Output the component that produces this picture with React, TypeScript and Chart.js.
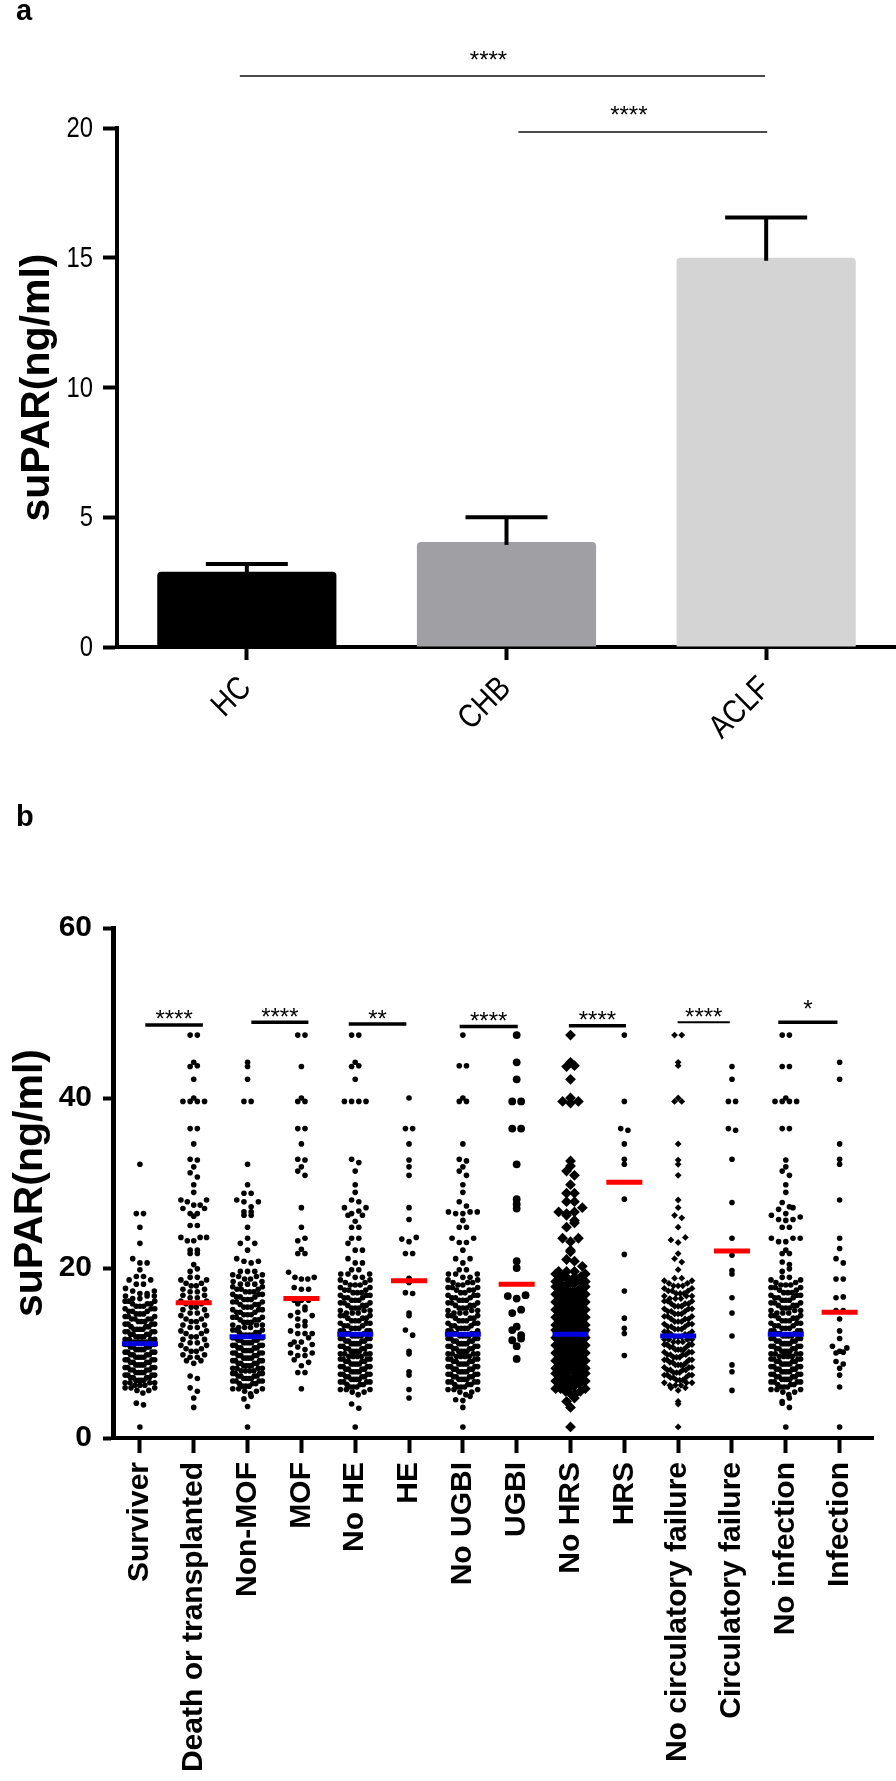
import React, { useEffect, useRef } from "react";
import { Chart, registerables } from "chart.js";

Chart.register(...registerables);

const SANS = "'Liberation Sans', Arial, Helvetica, sans-serif";

/* ---------------- panel a data ---------------- */
const groupsA = ["HC", "CHB", "ACLF"];
const meanA = [2.9, 4.05, 15.0];
const errTopA = [3.2, 5.0, 16.55];
const barColorA = ["#000000", "#a0a0a4", "#d4d4d4"];
const yTicksA = [0, 5, 10, 15, 20];
const sigPairsA = [[0, 2], [1, 2]];
const sigLabelsA = ["****", "****"];
const sigLevelA = [22.0, 19.85];

/* ---------------- panel b data ---------------- */
const categoriesB = [
  "Surviver", "Death or transplanted", "Non-MOF", "MOF", "No HE", "HE", "No UGBI", "UGBI",
  "No HRS", "HRS", "No circulatory failure", "Circulatory failure", "No infection", "Infection",
];

// each entry: [suPAR value (ng/ml), number of patients at that value]
const survivorValues = [
  [32.2, 1], [26.4, 2], [24.8, 1], [22.9, 1], [21.1, 1], [20.6, 2], [19.8, 1], [19.0, 2], [18.6, 2], [18.1, 2],
  [17.6, 1], [17.3, 2], [17.0, 2], [16.7, 3], [16.4, 2], [16.1, 3], [15.8, 3], [15.5, 3], [15.2, 3], [14.9, 3],
  [14.6, 3], [14.3, 3], [14.0, 4], [13.7, 3], [13.4, 4], [13.1, 3], [12.8, 4], [12.5, 4], [12.2, 4], [11.9, 4],
  [11.6, 4], [11.3, 4], [11.0, 4], [10.7, 4], [10.4, 4], [10.1, 4], [9.8, 4], [9.5, 4], [9.2, 4], [8.9, 4],
  [8.6, 4], [8.3, 4], [8.0, 4], [7.7, 4], [7.4, 4], [7.1, 4], [6.8, 4], [6.5, 4], [6.2, 3], [5.9, 3], [5.6, 2],
  [5.3, 1], [4.1, 1], [3.9, 1], [1.3, 1],
];
const deathValues = [
  [47.4, 2], [44.2, 1], [43.8, 1], [43.7, 1], [42.2, 1], [40.0, 1], [39.6, 4], [36.4, 2], [34.6, 1], [32.8, 1],
  [32.7, 1], [31.9, 1], [31.2, 1], [30.7, 1], [29.8, 1], [28.9, 1], [28.0, 2], [27.8, 1], [27.4, 2], [27.0, 2],
  [26.4, 2], [26.1, 1], [25.0, 2], [23.6, 3], [23.2, 2], [22.1, 2], [21.7, 2], [20.4, 1], [19.9, 1], [19.6, 1],
  [18.9, 2], [18.6, 2], [18.2, 2], [17.9, 2], [17.5, 2], [17.2, 2], [16.8, 2], [16.5, 2], [16.1, 2], [15.8, 2],
  [15.4, 2], [15.1, 2], [14.7, 2], [14.4, 2], [14.0, 2], [13.7, 2], [13.3, 2], [13.0, 2], [12.6, 2], [12.3, 2],
  [11.9, 2], [11.6, 2], [11.2, 2], [10.9, 2], [10.5, 2], [10.2, 2], [9.8, 2], [9.5, 2], [9.1, 2], [8.8, 1],
  [7.3, 1], [7.0, 1], [5.9, 1], [5.5, 1], [4.7, 1], [3.6, 1],
];
const nonMofValues = [
  [44.2, 1], [43.7, 1], [42.2, 1], [39.6, 2], [32.2, 1], [29.8, 1], [28.8, 2], [28.0, 1], [27.8, 2], [27.2, 1],
  [26.6, 2], [26.2, 2], [24.8, 1], [23.5, 1], [22.9, 2], [22.1, 1], [21.1, 1], [20.8, 2], [20.6, 1], [19.6, 3],
  [19.2, 2], [19.0, 2], [18.7, 2], [18.4, 2], [18.1, 3], [17.8, 2], [17.5, 3], [17.2, 3], [16.9, 3], [16.6, 3],
  [16.3, 3], [16.0, 3], [15.7, 3], [15.4, 3], [15.1, 3], [14.8, 3], [14.5, 3], [14.2, 3], [13.9, 3], [13.6, 3],
  [13.3, 3], [13.0, 3], [12.7, 3], [12.4, 3], [12.1, 4], [11.8, 4], [11.5, 4], [11.2, 4], [10.9, 4], [10.6, 4],
  [10.3, 4], [10.0, 4], [9.7, 4], [9.4, 4], [9.1, 4], [8.8, 4], [8.5, 4], [8.2, 4], [7.9, 4], [7.6, 4], [7.3, 4],
  [7.0, 4], [6.7, 4], [6.4, 3], [6.1, 3], [5.8, 3], [5.5, 2], [5.2, 1], [4.9, 1], [4.6, 1], [3.7, 1], [1.3, 1],
];
const mofValues = [
  [47.4, 2], [43.7, 1], [40.0, 1], [39.6, 2], [36.4, 2], [34.6, 1], [32.8, 1], [32.7, 1], [31.9, 1], [31.4, 1],
  [30.9, 1], [27.1, 1], [24.8, 1], [23.5, 1], [23.2, 1], [22.2, 1], [21.7, 2], [19.5, 1], [18.9, 2], [18.7, 2],
  [17.7, 1], [17.5, 2], [16.2, 3], [15.8, 1], [15.4, 1], [15.1, 1], [14.8, 1], [14.4, 2], [14.0, 1], [13.7, 1],
  [13.2, 2], [12.6, 1], [12.3, 3], [11.8, 1], [11.3, 2], [11.0, 2], [10.7, 1], [10.4, 1], [10.0, 2], [9.7, 2],
  [9.2, 1], [8.9, 1], [8.5, 1], [7.7, 2], [5.8, 1],
];
const noHeValues = [
  [47.4, 2], [44.2, 1], [43.8, 1], [43.7, 1], [42.2, 1], [39.6, 4], [32.8, 1], [32.4, 1], [31.4, 1], [29.8, 1],
  [28.9, 1], [28.0, 1], [27.8, 1], [27.1, 2], [26.7, 1], [26.4, 1], [26.2, 2], [25.5, 1], [24.8, 2], [23.5, 2],
  [22.9, 1], [22.1, 2], [21.1, 1], [20.6, 2], [19.8, 2], [19.3, 3], [18.9, 2], [18.6, 2], [18.3, 2], [18.0, 3],
  [17.7, 2], [17.4, 3], [17.1, 3], [16.8, 3], [16.5, 3], [16.2, 3], [15.9, 3], [15.6, 3], [15.3, 3], [15.0, 3],
  [14.7, 3], [14.4, 3], [14.1, 3], [13.8, 3], [13.5, 3], [13.2, 3], [12.9, 3], [12.6, 4], [12.3, 3], [12.0, 4],
  [11.7, 4], [11.4, 4], [11.1, 4], [10.8, 4], [10.5, 4], [10.2, 4], [9.9, 4], [9.6, 4], [9.3, 4], [9.0, 4],
  [8.7, 4], [8.4, 4], [8.1, 4], [7.8, 4], [7.5, 4], [7.2, 4], [6.9, 4], [6.6, 4], [6.3, 3], [6.0, 3], [5.7, 3],
  [5.4, 2], [5.1, 1], [4.0, 1], [3.5, 1], [1.3, 1],
];
const heValues = [
  [40.0, 1], [36.4, 2], [34.6, 1], [32.7, 1], [31.9, 1], [30.9, 1], [27.1, 1], [25.7, 1], [23.6, 1], [23.4, 1],
  [23.1, 1], [21.7, 2], [18.8, 1], [18.3, 1], [17.1, 1], [17.0, 1], [14.7, 1], [14.4, 1], [12.7, 1], [12.1, 1],
  [10.2, 1], [9.9, 1], [7.8, 1], [7.4, 1], [5.7, 1], [4.7, 1],
];
const noUgbiValues = [
  [47.4, 1], [43.8, 2], [40.0, 1], [39.6, 2], [34.6, 1], [32.8, 1], [32.6, 1], [31.9, 1], [31.4, 1], [30.9, 1],
  [29.8, 1], [28.9, 1], [27.8, 1], [27.3, 1], [26.6, 3], [26.4, 2], [25.6, 1], [24.8, 2], [23.5, 2], [23.0, 2],
  [22.1, 1], [21.1, 2], [20.6, 1], [19.8, 2], [19.3, 3], [18.9, 2], [18.6, 2], [18.3, 3], [18.0, 2], [17.7, 3],
  [17.4, 3], [17.1, 2], [16.8, 3], [16.5, 3], [16.2, 3], [15.9, 3], [15.6, 3], [15.3, 3], [15.0, 3], [14.7, 3],
  [14.4, 3], [14.1, 3], [13.8, 3], [13.5, 3], [13.2, 3], [12.9, 4], [12.6, 3], [12.3, 4], [12.0, 4], [11.7, 4],
  [11.4, 4], [11.1, 4], [10.8, 4], [10.5, 4], [10.2, 4], [9.9, 4], [9.6, 4], [9.3, 4], [9.0, 4], [8.7, 4],
  [8.4, 4], [8.1, 4], [7.8, 4], [7.5, 4], [7.2, 4], [6.9, 4], [6.6, 4], [6.3, 3], [6.0, 3], [5.7, 3], [5.4, 2],
  [5.1, 1], [4.9, 1], [4.5, 1], [4.4, 1], [3.6, 1], [1.3, 1],
];
const ugbiValues = [
  [47.4, 1], [44.2, 1], [42.2, 1], [39.6, 2], [36.4, 2], [32.2, 1], [28.1, 1], [27.5, 1], [27.0, 1], [20.8, 1],
  [20.0, 1], [16.8, 1], [16.7, 1], [16.4, 1], [15.1, 1], [14.7, 1], [13.1, 1], [12.7, 1], [12.1, 1], [11.7, 1],
  [11.5, 1], [10.8, 1], [9.3, 1],
];
const noHrsValues = [
  [47.4, 1], [44.2, 1], [43.8, 1], [43.7, 1], [42.2, 1], [40.0, 1], [39.6, 2], [39.4, 1], [32.6, 1], [32.0, 1],
  [31.4, 1], [30.9, 1], [29.8, 1], [28.8, 2], [27.8, 2], [27.1, 1], [26.6, 2], [26.4, 1], [26.2, 1], [25.6, 1],
  [25.3, 1], [24.8, 1], [23.5, 2], [23.1, 1], [22.1, 1], [21.9, 1], [21.0, 1], [20.8, 1], [20.2, 1], [19.6, 3],
  [19.3, 2], [19.0, 3], [18.7, 3], [18.4, 3], [18.1, 3], [17.8, 4], [17.5, 3], [17.2, 4], [16.9, 4], [16.6, 4],
  [16.3, 4], [16.0, 4], [15.7, 4], [15.4, 4], [15.1, 4], [14.8, 4], [14.5, 4], [14.2, 4], [13.9, 4], [13.6, 4],
  [13.3, 4], [13.0, 4], [12.7, 4], [12.4, 4], [12.1, 4], [11.8, 4], [11.5, 4], [11.2, 4], [10.9, 4], [10.6, 4],
  [10.3, 4], [10.0, 4], [9.7, 4], [9.4, 4], [9.1, 4], [8.8, 4], [8.5, 4], [8.2, 4], [7.9, 4], [7.6, 4], [7.3, 4],
  [7.0, 4], [6.7, 4], [6.4, 4], [6.1, 3], [5.8, 3], [5.5, 2], [5.2, 2], [4.7, 1], [4.3, 1], [3.6, 1], [1.3, 1],
];
const hrsValues = [
  [47.4, 1], [39.6, 1], [36.4, 1], [36.2, 1], [34.6, 1], [32.8, 1], [32.2, 1], [28.1, 1], [21.6, 1], [17.3, 1],
  [14.1, 1], [12.9, 1], [12.3, 1], [9.7, 1],
];
const noCircValues = [
  [47.4, 2], [44.2, 1], [43.8, 1], [40.0, 1], [39.6, 2], [34.6, 1], [32.7, 1], [32.2, 1], [30.9, 1], [28.0, 1],
  [27.1, 1], [26.2, 1], [25.9, 1], [24.8, 1], [23.6, 1], [23.3, 1], [23.0, 1], [21.7, 1], [21.1, 1], [20.7, 1],
  [19.8, 1], [18.8, 2], [18.5, 2], [18.2, 2], [17.9, 3], [17.6, 2], [17.3, 3], [17.0, 3], [16.7, 3], [16.4, 3],
  [16.1, 3], [15.8, 3], [15.5, 3], [15.2, 3], [14.9, 3], [14.6, 3], [14.3, 3], [14.0, 3], [13.7, 3], [13.4, 3],
  [13.1, 3], [12.8, 3], [12.5, 3], [12.2, 3], [11.9, 3], [11.6, 4], [11.3, 3], [11.0, 4], [10.7, 3], [10.4, 4],
  [10.1, 3], [9.8, 4], [9.5, 3], [9.2, 4], [8.9, 3], [8.6, 4], [8.3, 3], [8.0, 4], [7.7, 3], [7.4, 4], [7.1, 3],
  [6.8, 3], [6.5, 3], [6.2, 3], [5.9, 2], [5.6, 1], [4.3, 1], [4.0, 1], [1.3, 1],
];
const circValues = [
  [43.7, 1], [42.2, 1], [39.6, 2], [36.4, 1], [36.2, 1], [32.8, 1], [27.7, 1], [23.5, 1], [21.5, 1], [19.7, 1],
  [19.3, 1], [16.5, 1], [14.7, 1], [12.0, 1], [8.6, 1], [7.8, 1], [5.6, 1],
];
const noInfValues = [
  [47.4, 2], [43.7, 2], [40.0, 1], [39.6, 4], [36.4, 2], [32.7, 1], [31.9, 1], [31.4, 1], [30.9, 1], [29.8, 1],
  [28.9, 1], [27.7, 1], [27.2, 1], [27.1, 1], [26.9, 1], [26.4, 1], [26.2, 1], [26.0, 1], [25.7, 2], [25.6, 1],
  [24.8, 2], [23.5, 3], [23.1, 2], [22.1, 1], [21.7, 2], [20.7, 1], [20.4, 1], [19.9, 1], [19.6, 1], [18.9, 2],
  [18.6, 2], [18.3, 2], [18.0, 3], [17.7, 3], [17.4, 2], [17.1, 3], [16.8, 3], [16.5, 3], [16.2, 3], [15.9, 3],
  [15.6, 3], [15.3, 3], [15.0, 3], [14.7, 3], [14.4, 3], [14.1, 3], [13.8, 3], [13.5, 3], [13.2, 3], [12.9, 3],
  [12.6, 4], [12.3, 3], [12.0, 4], [11.7, 4], [11.4, 4], [11.1, 4], [10.8, 4], [10.5, 4], [10.2, 4], [9.9, 4],
  [9.6, 4], [9.3, 4], [9.0, 4], [8.7, 4], [8.4, 4], [8.1, 4], [7.8, 4], [7.5, 4], [7.2, 4], [6.9, 4], [6.6, 4],
  [6.3, 3], [6.0, 3], [5.7, 3], [5.4, 2], [5.1, 1], [4.7, 1], [4.3, 1], [4.1, 1], [3.6, 1], [1.3, 1],
];
const infectionValues = [
  [44.2, 1], [42.2, 1], [34.6, 1], [32.8, 1], [32.2, 1], [28.0, 1], [23.5, 1], [22.3, 1], [21.1, 1], [20.6, 1],
  [18.7, 2], [16.6, 1], [16.5, 1], [15.0, 2], [14.0, 1], [12.6, 1], [11.7, 1], [10.8, 1], [10.6, 1], [10.2, 1],
  [10.1, 1], [10.0, 1], [9.0, 1], [8.7, 1], [8.2, 1], [7.4, 1], [6.0, 1], [1.3, 1],
];

const valuesB = [
  survivorValues, deathValues, nonMofValues, mofValues, noHeValues, heValues, noUgbiValues, ugbiValues,
  noHrsValues, hrsValues, noCircValues, circValues, noInfValues, infectionValues,
];
const mediansB = [11.1, 15.9, 11.9, 16.4, 12.2, 18.5, 12.2, 18.1, 12.2, 30.1, 12.0, 22.0, 12.2, 14.8];
const yTicksB = [0, 20, 40, 60];
const sigPairsB = [[0, 1], [2, 3], [4, 5], [6, 7], [8, 9], [10, 11], [12, 13]];
const sigLabelsB = ["****", "****", "**", "****", "****", "****", "*"];
const sigLevelB = [48.6, 48.9, 48.7, 48.4, 48.5, 48.9, 48.9];

/* ---------------- layout & styles ---------------- */
const W = 896;
const A_H = 790;
const A_LEFT = 117;
const A_BOTTOM = 647;
const B_PAGE_TOP = 790;
const B_H = 1781 - B_PAGE_TOP;
const B_LEFT = 113;
const B_RIGHT = 883;
const B_TOP_PAGE = 928;
const B_BOTTOM_PAGE = 1438;
const B_XMIN = -0.5;
const B_XMAX = 13.62;
const PX_PER_X = (B_RIGHT - B_LEFT) / (B_XMAX - B_XMIN);

const medianColorB = categoriesB.map((_, i) => (i % 2 === 0 ? "#0000e0" : "#ff0000"));
const pointStyleB = categoriesB.map((_, i) => (i === 8 || i === 10 ? "rectRot" : "circle"));
const pointRadiusB = categoriesB.map((_, i) => (i === 8 ? 5.4 : i === 7 ? 3.9 : i === 10 ? 3.4 : 2.8));
const rowSpacingB = categoriesB.map((_, i) => (i === 7 ? 9 : i === 8 ? 8 : 7.3));
const maxHalfB = [15, 13, 15, 13, 15, 12, 15, 12, 15, 10, 14, 10, 15, 13];
const BIN_H = 0.85;
const sigSpanB = [[0.1, 1.17], [2.07, 3.13], [3.88, 4.95], [5.94, 7.02], [7.97, 9.03], [9.99, 10.96], [11.86, 12.96]];
const sigWidthB = [3.5, 3.5, 3.5, 3.5, 3.5, 2, 3.5];
const sigSpanA = [[-0.027, 1.996], [1.046, 2.004]];

// Prism-style scatter layout: values binned in rows, lowest value of a row at the centre.
function rowOffsets(vals: number[], spacing: number, maxHalf: number): number[] {
  const out = new Array(vals.length).fill(0);
  const bins = new Map<number, number[]>();
  vals.forEach((v, i) => {
    const b = Math.floor(v / BIN_H + 1e-9);
    if (!bins.has(b)) bins.set(b, []);
    bins.get(b)!.push(i);
  });
  bins.forEach((idxs, b) => {
    const n = idxs.length;
    if (n === 1) return;
    idxs.sort((p, q) => vals[p] - vals[q]);
    const s = Math.min(spacing, (2 * maxHalf) / (n - 1));
    const slots = Array.from({ length: n }, (_, j) => (j - (n - 1) / 2) * s);
    const flip = b % 2 === 0 ? 1 : -1;
    slots.sort((p, q) => Math.abs(p) - Math.abs(q) || flip * (q - p));
    idxs.forEach((idx, k) => {
      out[idx] = slots[k] / PX_PER_X;
    });
  });
  return out;
}

function drawCenteredText(ctx: CanvasRenderingContext2D, text: string, cx: number, cy: number, font: string) {
  ctx.font = font;
  ctx.fillStyle = "#000";
  ctx.textAlign = "center";
  ctx.textBaseline = "alphabetic";
  const m = ctx.measureText(text);
  ctx.fillText(text, cx, cy + (m.actualBoundingBoxAscent - m.actualBoundingBoxDescent) / 2);
}

const panelAPlugin = {
  id: "panelAExtras",
  afterDatasetsDraw(chart: any) {
    const ctx: CanvasRenderingContext2D = chart.ctx;
    const x = chart.scales.x;
    const y = chart.scales.y;
    ctx.save();
    ctx.strokeStyle = "#000";
    ctx.lineWidth = 4;
    meanA.forEach((m, i) => {
      const cx = x.getPixelForValue(i);
      const yBar = y.getPixelForValue(m);
      const yTop = y.getPixelForValue(errTopA[i]);
      ctx.beginPath();
      ctx.moveTo(cx, yBar + 3);
      ctx.lineTo(cx, yTop);
      ctx.stroke();
      ctx.beginPath();
      ctx.moveTo(cx - 41, yTop);
      ctx.lineTo(cx + 41, yTop);
      ctx.stroke();
    });
    sigPairsA.forEach((_, k) => {
      const x0 = x.getPixelForValue(sigSpanA[k][0]);
      const x1 = x.getPixelForValue(sigSpanA[k][1]);
      const yy = y.getPixelForValue(sigLevelA[k]);
      ctx.strokeStyle = "#4a4a4a";
      ctx.lineWidth = 2;
      ctx.beginPath();
      ctx.moveTo(x0, yy);
      ctx.lineTo(x1, yy);
      ctx.stroke();
      drawCenteredText(ctx, sigLabelsA[k], (x0 + x1) / 2 - 14, yy - 21, `24px ${SANS}`);
    });
    ctx.fillStyle = "#000";
    yTicksA.forEach((v) => {
      const py = y.getPixelForValue(v);
      ctx.save();
      ctx.translate(A_LEFT - 24, py);
      ctx.scale(0.82, 1);
      ctx.font = `29px ${SANS}`;
      ctx.textAlign = "right";
      ctx.textBaseline = "middle";
      ctx.fillText(String(v), 0, 1);
      ctx.restore();
    });
    groupsA.forEach((g, i) => {
      const px = x.getPixelForValue(i);
      const cap = 0.716 * 33;
      ctx.save();
      ctx.translate(px - 11 + cap * Math.SQRT1_2, A_BOTTOM + 26 + cap * Math.SQRT1_2);
      ctx.rotate(-Math.PI / 4);
      ctx.scale(0.84, 1);
      ctx.font = `33px ${SANS}`;
      ctx.textAlign = "right";
      ctx.textBaseline = "alphabetic";
      ctx.fillText(g, 0, 0);
      ctx.restore();
    });
    ctx.font = `bold 29px ${SANS}`;
    ctx.textAlign = "left";
    ctx.textBaseline = "alphabetic";
    ctx.fillText("a", 16, 20);
    ctx.restore();
  },
};

const panelBPlugin = {
  id: "panelBExtras",
  afterDraw(chart: any) {
    const ctx: CanvasRenderingContext2D = chart.ctx;
    const x = chart.scales.x;
    const y = chart.scales.y;
    ctx.save();
    sigPairsB.forEach((_, k) => {
      const x0 = x.getPixelForValue(sigSpanB[k][0]);
      const x1 = x.getPixelForValue(sigSpanB[k][1]);
      const yy = y.getPixelForValue(sigLevelB[k]);
      ctx.strokeStyle = "#000";
      ctx.lineWidth = sigWidthB[k];
      ctx.beginPath();
      ctx.moveTo(x0, yy);
      ctx.lineTo(x1, yy);
      ctx.stroke();
      const lift = sigLabelsB[k].length === 1 ? 18 : 10;
      drawCenteredText(ctx, sigLabelsB[k], (x0 + x1) / 2, yy - lift, `24px ${SANS}`);
    });
    ctx.font = `bold 29px ${SANS}`;
    ctx.fillStyle = "#000";
    ctx.textAlign = "left";
    ctx.textBaseline = "alphabetic";
    ctx.fillText("b", 16, 826 - B_PAGE_TOP);
    ctx.restore();
  },
};

export default function App() {
  const refA = useRef<HTMLCanvasElement>(null);
  const refB = useRef<HTMLCanvasElement>(null);

  useEffect(() => {
    const chartA = new Chart(refA.current as HTMLCanvasElement, {
      type: "bar",
      data: {
        labels: groupsA,
        datasets: [
          {
            data: meanA,
            backgroundColor: barColorA,
            borderWidth: 0,
            borderRadius: 4,
            borderSkipped: "start",
            barPercentage: 0.69,
            categoryPercentage: 1,
          },
        ],
      },
      options: {
        animation: false,
        responsive: false,
        events: [],
        layout: { padding: { top: 128, left: 0, right: 0, bottom: 0 } },
        plugins: { legend: { display: false }, tooltip: { enabled: false } },
        scales: {
          x: {
            offset: true,
            grid: { display: true, drawOnChartArea: false, drawTicks: true, tickLength: 13, tickWidth: 4, tickColor: "#000", offset: false },
            border: { display: true, width: 4, color: "#000" },
            ticks: { display: false },
            afterFit: (s: any) => {
              s.height = A_H - A_BOTTOM;
            },
          },
          y: {
            min: 0,
            max: 20,
            afterBuildTicks: (s: any) => {
              s.ticks = yTicksA.map((v) => ({ value: v }));
            },
            grid: { display: true, drawOnChartArea: false, drawTicks: true, tickLength: 14, tickWidth: 4, tickColor: "#000" },
            border: { display: true, width: 4, color: "#000" },
            ticks: { display: false },
            title: {
              display: true,
              text: "suPAR(ng/ml)",
              color: "#000",
              font: { family: SANS, size: 41, weight: "bold", lineHeight: 1 },
              padding: { top: 17, bottom: 0 },
            },
            afterFit: (s: any) => {
              s.width = A_LEFT;
            },
          },
        },
      },
      plugins: [panelAPlugin],
    } as any);

    const pointDatasets = valuesB.map((rows, i) => {
      const vals: number[] = [];
      rows.forEach(([v, c]) => {
        for (let k = 0; k < c; k++) vals.push(v);
      });
      const offs = rowOffsets(vals, rowSpacingB[i], maxHalfB[i]);
      return {
        data: vals.map((v, k) => ({ x: i + offs[k], y: v })),
        pointStyle: pointStyleB[i],
        pointRadius: pointRadiusB[i],
        pointHoverRadius: pointRadiusB[i],
        pointBackgroundColor: "#000",
        pointBorderWidth: 0,
        borderWidth: 0,
        order: 1,
      };
    });

    const medianDataset = {
      data: mediansB.map((m, i) => ({ x: i, y: m })),
      pointStyle: "line",
      pointRadius: 18,
      pointHoverRadius: 18,
      pointBorderColor: medianColorB,
      pointBorderWidth: 5,
      order: 0,
    };

    const chartB = new Chart(refB.current as HTMLCanvasElement, {
      type: "scatter",
      data: { datasets: [medianDataset, ...pointDatasets] },
      options: {
        animation: false,
        responsive: false,
        events: [],
        layout: { padding: { top: B_TOP_PAGE - B_PAGE_TOP, left: 0, right: W - B_RIGHT, bottom: 0 } },
        plugins: { legend: { display: false }, tooltip: { enabled: false } },
        scales: {
          x: {
            type: "linear",
            min: B_XMIN,
            max: B_XMAX,
            afterBuildTicks: (s: any) => {
              s.ticks = categoriesB.map((_, i) => ({ value: i }));
            },
            grid: { display: true, drawOnChartArea: false, drawTicks: true, tickLength: 15, tickWidth: 4, tickColor: "#000" },
            border: { display: true, width: 4, color: "#000" },
            ticks: {
              callback: (v: any) => categoriesB[v as number],
              font: { family: SANS, size: 30, weight: "bold" },
              color: "#000",
              minRotation: 90,
              maxRotation: 90,
              padding: 9,
              autoSkip: false,
            },
            afterFit: (s: any) => {
              s.height = 1781 - B_BOTTOM_PAGE;
            },
          },
          y: {
            min: 0,
            max: 60,
            afterBuildTicks: (s: any) => {
              s.ticks = yTicksB.map((v) => ({ value: v }));
            },
            grid: { display: true, drawOnChartArea: false, drawTicks: true, tickLength: 10, tickWidth: 4, tickColor: "#000" },
            border: { display: true, width: 5, color: "#000" },
            ticks: { font: { family: SANS, size: 30, weight: "bold" }, color: "#000", padding: 11 },
            title: {
              display: true,
              text: "suPAR(ng/ml)",
              color: "#000",
              font: { family: SANS, size: 41, weight: "bold", lineHeight: 1 },
              padding: { top: 10, bottom: 0 },
            },
            afterFit: (s: any) => {
              s.width = B_LEFT;
            },
          },
        },
      },
      plugins: [panelBPlugin],
    } as any);

    return () => {
      chartA.destroy();
      chartB.destroy();
    };
  }, []);

  return (
    <div style={{ position: "absolute", left: 0, top: 0, width: W, height: 1781, background: "#fff" }}>
      <canvas
        ref={refA}
        width={W}
        height={A_H}
        style={{ position: "absolute", left: 0, top: 0, width: W, height: A_H }}
      />
      <canvas
        ref={refB}
        width={W}
        height={B_H}
        style={{ position: "absolute", left: 0, top: B_PAGE_TOP, width: W, height: B_H }}
      />
    </div>
  );
}
